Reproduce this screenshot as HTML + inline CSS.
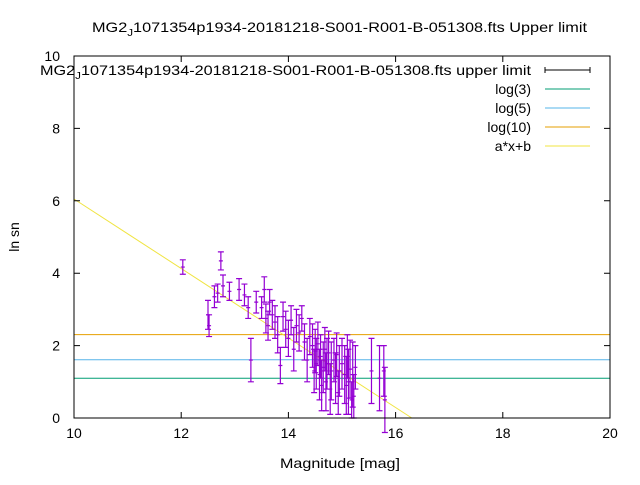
<!DOCTYPE html>
<html><head><meta charset="utf-8"><style>
body{margin:0;background:#fff;}
svg text{font-family:"Liberation Sans",sans-serif;font-size:14px;fill:#000;}
</style></head><body>
<svg id="chart" width="640" height="480" xmlns="http://www.w3.org/2000/svg">
<text x="92" y="32" textLength="495" lengthAdjust="spacingAndGlyphs">MG2<tspan dy="4" font-size="10">J</tspan><tspan dy="-4">1071354p1934-20181218-S001-R001-B-051308.fts Upper limit</tspan></text>
<g id="plot"></g>
<text transform="translate(19,237) rotate(-90)" text-anchor="middle">ln sn</text>
<text x="280" y="468" textLength="120" lengthAdjust="spacingAndGlyphs">Magnitude [mag]</text>
<g>
<text x="40" y="75" textLength="491" lengthAdjust="spacingAndGlyphs">MG2<tspan dy="4" font-size="10">J</tspan><tspan dy="-4">1071354p1934-20181218-S001-R001-B-051308.fts upper limit</tspan></text>
<g stroke="#000" stroke-width="1"><line x1="545" y1="70" x2="590" y2="70"/><line x1="545" y1="67" x2="545" y2="73"/><line x1="590" y1="67" x2="590" y2="73"/></g>
<text x="531" y="94" text-anchor="end">log(3)</text>
<line x1="545" y1="89" x2="590" y2="89" stroke="#009e73"/>
<text x="531" y="113" text-anchor="end">log(5)</text>
<line x1="545" y1="108" x2="590" y2="108" stroke="#56b4e9"/>
<text x="531" y="132" text-anchor="end">log(10)</text>
<line x1="545" y1="127" x2="590" y2="127" stroke="#e69f00"/>
<text x="531" y="151" text-anchor="end">a*x+b</text>
<line x1="545" y1="146" x2="590" y2="146" stroke="#f0e442"/>
</g>
</svg>
<script>
const xTicks=[10,12,14,16,18,20];
const yTicks=[0,2,4,6,8,10];
const mags=[12.03,12.50,12.52,12.62,12.68,12.74,12.78,12.90,13.08,13.18,13.25,13.30,13.40,13.50,13.55,13.58,13.62,13.65,13.70,13.75,13.80,13.85,13.90,13.95,14.00,14.05,14.10,14.15,14.20,14.25,14.30,14.35,14.40,14.45,14.48,14.50,14.52,14.55,14.58,14.60,14.62,14.65,14.68,14.70,14.72,14.75,14.78,14.80,14.85,14.88,14.90,14.93,14.95,15.00,15.05,15.08,15.10,15.12,15.15,15.18,15.20,15.22,15.25,15.55,15.70,15.78,15.80];
const sns=[4.17,2.85,2.55,3.35,3.45,4.34,3.65,3.50,3.55,3.40,3.05,1.60,3.20,3.05,3.55,2.75,2.55,3.20,2.85,2.65,2.30,1.45,2.80,2.45,2.20,2.70,1.90,2.55,2.35,2.75,2.10,1.60,2.25,2.00,1.30,1.85,1.50,2.05,1.20,1.70,0.90,1.40,1.90,1.00,1.50,1.80,0.80,1.30,1.60,1.10,1.75,0.70,1.30,1.50,1.20,0.90,1.70,1.00,1.35,0.50,1.20,0.60,1.40,1.30,1.10,1.30,0.50];
const errs=[0.2,0.4,0.3,0.3,0.25,0.25,0.3,0.25,0.3,0.3,0.3,0.6,0.3,0.3,0.35,0.4,0.4,0.35,0.4,0.45,0.5,0.5,0.4,0.5,0.5,0.4,0.6,0.45,0.5,0.35,0.5,0.6,0.5,0.6,0.6,0.6,0.7,0.6,0.7,0.6,0.7,0.7,0.6,0.8,0.7,0.6,0.7,0.8,0.6,0.7,0.6,0.6,0.7,0.7,0.8,0.8,0.6,0.9,0.8,0.5,0.9,0.6,0.6,0.9,0.9,0.7,0.9];
const hLevels=[Math.log(3),Math.log(5),Math.log(10)];
const hColors=["#009e73","#56b4e9","#e69f00"];
const fitA=-0.96, fitB=15.65;
const X0=74,X1=610,Y0=418,Y1=56;
const xs=v=>X0+(v-10)/10*(X1-X0);
const ys=v=>Y0-(v/10)*(Y0-Y1);
const NS="http://www.w3.org/2000/svg";
const g=document.getElementById('plot');
function mk(t,a){const e=document.createElementNS(NS,t);for(const k in a)e.setAttribute(k,a[k]);g.appendChild(e);return e;}
hLevels.forEach((v,i)=>{const l=mk('line',{x1:X0,x2:X1,y1:ys(v),y2:ys(v),stroke:hColors[i]});

});
{const xa=10,ya=fitA*xa+fitB;const xb=-fitB/fitA;
const l=mk('line',{x1:xs(xa),y1:ys(ya),x2:xs(xb),y2:ys(0),stroke:'#f0e442'});

}
mags.forEach((m,i)=>{const x=xs(m),yl=ys(sns[i]-errs[i]),yh=ys(sns[i]+errs[i]),yc=ys(sns[i]);
const p=mk('path',{d:`M${x},${yl}V${yh}M${x-3},${yl}H${x+3}M${x-3},${yh}H${x+3}M${x-2},${yc}H${x+2}`,stroke:'#9400d3','stroke-width':1.2,fill:'none'});

});
{const b=mk('rect',{x:X0,y:Y1,width:X1-X0,height:Y0-Y1,fill:'none',stroke:'#000'});

}
xTicks.forEach(v=>{const x=xs(v);
const t=mk('path',{d:`M${x},${Y0}v-6M${x},${Y1}v6`,stroke:'#000'});


const tx=mk('text',{x:x,y:Y0+20,'text-anchor':'middle'});tx.textContent=v;

});
yTicks.forEach(v=>{const y=ys(v);
const t=mk('path',{d:`M${X0},${y}h6M${X1},${y}h-6`,stroke:'#000'});


const tx=mk('text',{x:X0-14,y:y+5,'text-anchor':'end'});tx.textContent=v;

});
</script>
</body></html>
